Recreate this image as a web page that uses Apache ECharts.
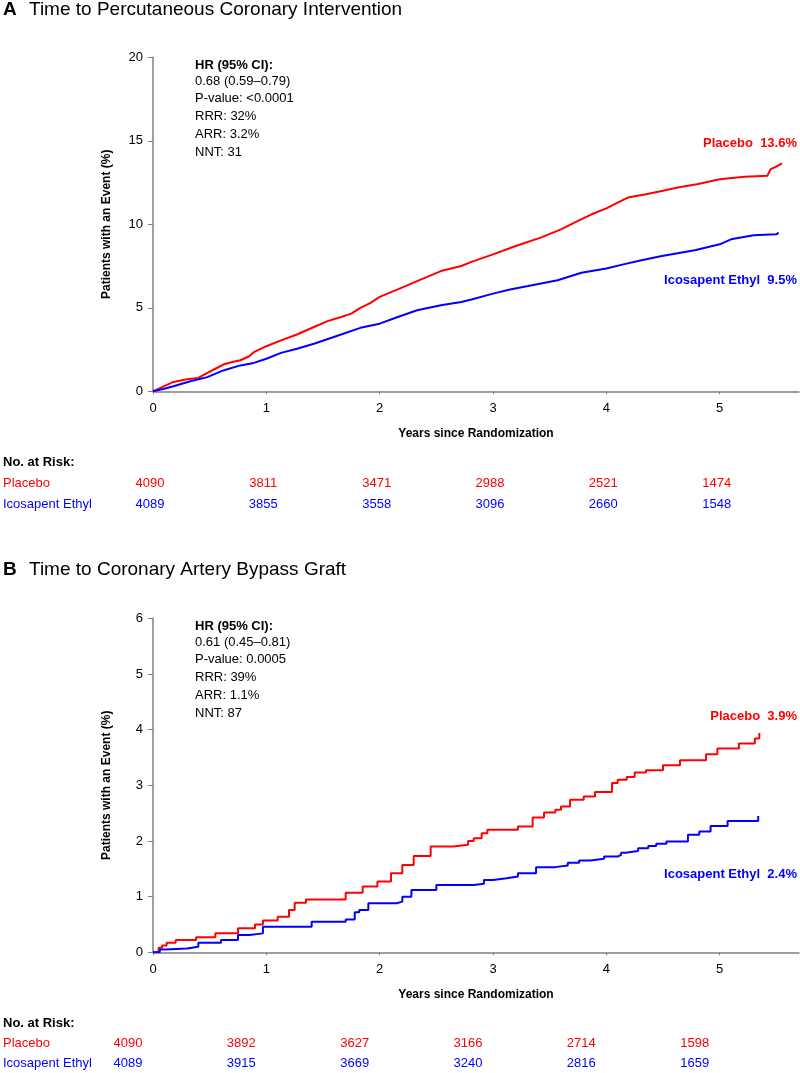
<!DOCTYPE html>
<html><head><meta charset="utf-8">
<script src="https://cdn.jsdelivr.net/npm/echarts@6/dist/echarts.min.js"></script>
<style>html,body{margin:0;padding:0;background:#fff}#c{width:800px;height:1073px}</style>
</head><body><div id="c"></div>
<script>
const FONT = '"Liberation Sans", Arial, Helvetica, sans-serif';
const RED = '#ff0000', BLUE = '#0000ff', AXIS = '#808080';

const xTicks = [0, 1, 2, 3, 4, 5];
const groups = ['Placebo', 'Icosapent Ethyl'];

// ---------- Panel A ----------
const titleA = 'Time to Percutaneous Coronary Intervention';
const statsA = ['HR (95% CI):', '0.68 (0.59–0.79)', 'P-value: <0.0001', 'RRR: 32%', 'ARR: 3.2%', 'NNT: 31'];
const endLabelsA = ['Placebo  13.6%', 'Icosapent Ethyl  9.5%'];
const yTicksA = [0, 5, 10, 15, 20];
const placeboA = [[0,0],[0.08,0.25],[0.18,0.56],[0.3,0.72],[0.4,0.8],[0.48,1.1],[0.55,1.35],[0.62,1.6],[0.7,1.75],[0.77,1.86],[0.85,2.1],[0.89,2.35],[1.0,2.7],[1.13,3.05],[1.27,3.4],[1.42,3.85],[1.54,4.2],[1.66,4.45],[1.75,4.65],[1.83,5.0],[1.92,5.3],[2.0,5.65],[2.16,6.1],[2.33,6.6],[2.54,7.2],[2.72,7.5],[2.81,7.75],[3.0,8.2],[3.2,8.7],[3.42,9.2],[3.6,9.7],[3.75,10.2],[3.87,10.6],[4.0,10.95],[4.1,11.3],[4.19,11.6],[4.35,11.8],[4.49,12.0],[4.63,12.2],[4.8,12.4],[5.0,12.7],[5.22,12.85],[5.42,12.9],[5.45,13.3],[5.5,13.45],[5.55,13.65]];
const icosapentA = [[0,0],[0.1,0.15],[0.18,0.3],[0.33,0.6],[0.48,0.85],[0.62,1.25],[0.77,1.55],[0.89,1.7],[1.0,1.95],[1.13,2.3],[1.27,2.55],[1.42,2.85],[1.55,3.15],[1.66,3.4],[1.83,3.8],[2.0,4.05],[2.16,4.45],[2.33,4.85],[2.54,5.15],[2.72,5.35],[2.81,5.5],[3.0,5.85],[3.15,6.1],[3.31,6.3],[3.57,6.65],[3.78,7.1],[4.0,7.35],[4.15,7.6],[4.31,7.85],[4.49,8.1],[4.78,8.45],[5.0,8.8],[5.1,9.1],[5.3,9.35],[5.5,9.4],[5.52,9.5]];
const riskPlaceboA = [4090, 3811, 3471, 2988, 2521, 1474];
const riskIcosapentA = [4089, 3855, 3558, 3096, 2660, 1548];

// ---------- Panel B ----------
const titleB = 'Time to Coronary Artery Bypass Graft';
const statsB = ['HR (95% CI):', '0.61 (0.45–0.81)', 'P-value: 0.0005', 'RRR: 39%', 'ARR: 1.1%', 'NNT: 87'];
const endLabelsB = ['Placebo  3.9%', 'Icosapent Ethyl  2.4%'];
const yTicksB = [0, 1, 2, 3, 4, 5, 6];
const placeboB = [[0,0],[0.05,0.08],[0.08,0.12],[0.12,0.17],[0.2,0.22],[0.38,0.27],[0.55,0.34],[0.75,0.43],[0.9,0.5],[0.97,0.57],[1.1,0.64],[1.2,0.76],[1.25,0.89],[1.35,0.95],[1.7,1.07],[1.85,1.18],[1.98,1.27],[2.1,1.42],[2.2,1.57],[2.3,1.73],[2.45,1.9],[2.65,1.93],[2.78,2.0],[2.83,2.05],[2.9,2.14],[2.95,2.2],[3.22,2.26],[3.35,2.42],[3.45,2.51],[3.55,2.56],[3.6,2.62],[3.68,2.74],[3.8,2.8],[3.9,2.88],[4.05,3.04],[4.1,3.1],[4.18,3.15],[4.25,3.23],[4.35,3.27],[4.5,3.36],[4.65,3.45],[4.88,3.56],[4.98,3.66],[5.17,3.75],[5.31,3.84],[5.35,3.94]];
const icosapentB = [[0,0],[0.06,0.05],[0.1,0.07],[0.3,0.1],[0.4,0.17],[0.6,0.22],[0.75,0.31],[0.85,0.34],[0.97,0.46],[1.4,0.55],[1.7,0.59],[1.78,0.72],[1.82,0.76],[1.9,0.88],[2.15,0.91],[2.2,1.0],[2.28,1.12],[2.5,1.21],[2.83,1.23],[2.92,1.3],[3.0,1.33],[3.12,1.36],[3.22,1.42],[3.38,1.53],[3.55,1.56],[3.66,1.61],[3.76,1.65],[3.86,1.68],[3.98,1.72],[4.1,1.75],[4.13,1.79],[4.17,1.82],[4.28,1.87],[4.37,1.91],[4.44,1.95],[4.53,1.99],[4.72,2.11],[4.82,2.17],[4.92,2.27],[5.07,2.36],[5.34,2.45]];
const riskPlaceboB = [4090, 3892, 3627, 3166, 2714, 1598];
const riskIcosapentB = [4089, 3915, 3669, 3240, 2816, 1659];

// ---------- layout ----------
const L = 153, W = 646, H = 334, XMAX = 5.7;
const topA = 57.3, topB = 618.3;
const riskTopA = 472.5, riskTopB = 1033.5;

function mainX(idx) {
  return {
    type: 'value', gridIndex: idx, min: 0, max: XMAX,
    name: 'Years since Randomization', nameLocation: 'middle', nameGap: 36,
    nameTextStyle: { fontFamily: FONT, fontWeight: 'bold', fontSize: 12, color: '#000' },
    axisLine: { show: true, lineStyle: { color: AXIS, width: 1.5 } },
    axisTick: { show: true, length: 3, customValues: xTicks, lineStyle: { color: AXIS } },
    axisLabel: { customValues: xTicks, margin: 11, fontFamily: FONT, fontSize: 13, color: '#000' },
    splitLine: { show: false }
  };
}
function mainY(idx, ticks) {
  return {
    type: 'value', gridIndex: idx, min: ticks[0], max: ticks[ticks.length - 1], interval: ticks[1] - ticks[0],
    name: 'Patients with an Event (%)', nameLocation: 'middle', nameGap: 40, nameRotate: 90,
    nameTextStyle: { fontFamily: FONT, fontWeight: 'bold', fontSize: 12, color: '#000' },
    axisLine: { show: true, lineStyle: { color: AXIS, width: 1.5 } },
    axisTick: { show: true, length: 5, lineStyle: { color: AXIS } },
    axisLabel: { margin: 10, fontFamily: FONT, fontSize: 13, color: '#000' },
    splitLine: { show: false }
  };
}
function riskX(idx) {
  return { type: 'value', gridIndex: idx, min: 0, max: XMAX, show: false };
}
function riskY(idx) {
  return {
    type: 'category', gridIndex: idx, data: groups, inverse: true,
    axisLine: { show: false }, axisTick: { show: false }, splitLine: { show: false },
    axisLabel: { align: 'left', margin: 150, fontFamily: FONT, fontSize: 13,
      color: (v) => v === groups[0] ? RED : BLUE }
  };
}
function lineSeries(idx, data, color, step) {
  return { type: 'line', xAxisIndex: idx, yAxisIndex: idx, data, step: step ? 'end' : false,
    showSymbol: false, symbol: 'none', lineStyle: { color, width: 2 }, itemStyle: { color }, z: 3 };
}
function riskSeries(idx, grp, values, color, dx) {
  return { type: 'scatter', xAxisIndex: idx, yAxisIndex: idx, symbolSize: 1,
    itemStyle: { color: 'rgba(255,255,255,0)', opacity: 1 },
    data: values.map((n, i) => [xTicks[i], grp, n]),
    label: { show: true, position: 'inside', offset: [dx, 0], formatter: (p) => String(p.value[2]),
      fontFamily: FONT, fontSize: 13, color, opacity: 1 } };
}
function txt(x, y, text, opts) {
  return { type: 'text', x, y, silent: true,
    style: Object.assign({ text, fontFamily: FONT, fontSize: 13, fill: '#000',
      textAlign: 'left', textVerticalAlign: 'middle' }, opts || {}) };
}
const statOffsets = [7.7, 23.7, 41.5, 59.5, 77.5, 95.3];
function panelGraphics(letter, title, titleY, top, stats, endLabels, endYs, riskHdrY) {
  const g = [];
  g.push(txt(3, titleY, letter, { fontSize: 19, fontWeight: 'bold' }));
  g.push(txt(29, titleY, title, { fontSize: 19 }));
  stats.forEach((s, i) => g.push(txt(195, top + statOffsets[i], s, i === 0 ? { fontWeight: 'bold' } : {})));
  g.push(txt(797, endYs[0], endLabels[0], { fontWeight: 'bold', fill: RED, textAlign: 'right' }));
  g.push(txt(797, endYs[1], endLabels[1], { fontWeight: 'bold', fill: BLUE, textAlign: 'right' }));
  g.push(txt(3, riskHdrY, 'No. at Risk:', { fontWeight: 'bold' }));
  return g;
}

const chart = echarts.init(document.getElementById('c'), null, { renderer: 'canvas' });
chart.setOption({
  animation: false,
  backgroundColor: '#fff',
  grid: [
    { left: L, top: topA, width: W, height: H },
    { left: L, top: riskTopA, width: W, height: 42 },
    { left: L, top: topB, width: W, height: H },
    { left: L, top: riskTopB, width: W, height: 42 }
  ],
  xAxis: [mainX(0), riskX(1), mainX(2), riskX(3)],
  yAxis: [mainY(0, yTicksA), riskY(1), mainY(2, yTicksB), riskY(3)],
  series: [
    lineSeries(0, placeboA, RED, false),
    lineSeries(0, icosapentA, BLUE, false),
    riskSeries(1, groups[0], riskPlaceboA, RED, -3),
    riskSeries(1, groups[1], riskIcosapentA, BLUE, -3),
    lineSeries(2, placeboB, RED, true),
    lineSeries(2, icosapentB, BLUE, true),
    riskSeries(3, groups[0], riskPlaceboB, RED, -25),
    riskSeries(3, groups[1], riskIcosapentB, BLUE, -25)
  ],
  graphic: [].concat(
    panelGraphics('A', titleA, 10, topA, statsA, endLabelsA, [143, 280], 462),
    panelGraphics('B', titleB, 570, topB, statsB, endLabelsB, [716, 874], 1023)
  )
});
</script></body></html>
